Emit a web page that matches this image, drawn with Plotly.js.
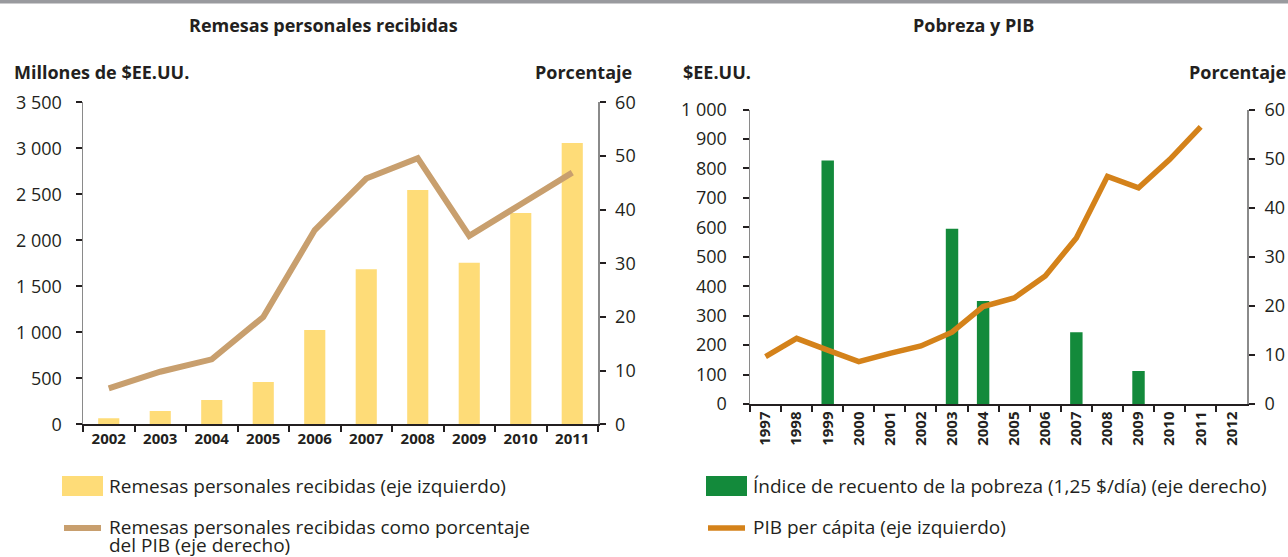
<!DOCTYPE html>
<html>
<head>
<meta charset="utf-8">
<script src="https://cdn.plot.ly/plotly-3.0.1.min.js"></script>
<style>
html,body{margin:0;padding:0;background:#fff;}
#chart{width:1288px;height:557px;}
</style>
</head>
<body>
<div id="chart"></div>
<script>
// ---- Data ----
const remitYears = ['2002','2003','2004','2005','2006','2007','2008','2009','2010','2011'];
const remitMillions = [65, 145, 264, 460, 1025, 1685, 2547, 1757, 2297, 3058];
const remitPctGDP = [6.7, 9.8, 12.1, 20.0, 36.2, 45.8, 49.6, 35.1, 41.0, 46.9];

const povAxisYears = ['1997','1998','1999','2000','2001','2002','2003','2004','2005','2006','2007','2008','2009','2010','2011','2012'];
const povertyYears = ['1999','2003','2004','2007','2009'];
const povertyHeadcount = [49.6, 35.7, 21.0, 14.6, 6.7];
const gdpYears = ['1997','1998','1999','2000','2001','2002','2003','2004','2005','2006','2007','2008','2009','2010','2011'];
const gdpPerCapita = [161, 223, 183, 144, 172, 197, 244, 331, 360, 435, 564, 773, 734, 830, 941];

const legendLabels = {
  remitBars: 'Remesas personales recibidas (eje izquierdo)',
  remitLine1: 'Remesas personales recibidas como porcentaje',
  remitLine2: 'del PIB (eje derecho)',
  povBars: 'Índice de recuento de la pobreza (1,25 $/día) (eje derecho)',
  gdpLine: 'PIB per cápita (eje izquierdo)'
};

// ---- Style ----
const W = 1288, H = 557;
const px = x => x / W;
const py = y => (H - y) / H;
const TXT = '#231F20';
const FONT = 'Open Sans, Noto Sans, sans-serif';
const C_YELLOW = '#FEDC78';
const C_TAN = '#C89F6E';
const C_GREEN = '#138A3B';
const C_ORANGE = '#D4821A';

const traces = [
  {type:'bar', x: remitYears, y: remitMillions, xaxis:'x', yaxis:'y',
   marker:{color:C_YELLOW}, width:0.41, name: legendLabels.remitBars},
  {type:'scatter', mode:'lines', x: remitYears, y: remitPctGDP, xaxis:'x', yaxis:'y2',
   line:{color:C_TAN, width:6}, name: legendLabels.remitLine1 + ' ' + legendLabels.remitLine2},
  {type:'bar', x: povertyYears, y: povertyHeadcount, xaxis:'x2', yaxis:'y3',
   marker:{color:C_GREEN}, width:0.4, name: legendLabels.povBars},
  {type:'scatter', mode:'lines', x: gdpYears, y: gdpPerCapita, xaxis:'x2', yaxis:'y4',
   line:{color:C_ORANGE, width:5.5}, name: legendLabels.gdpLine}
];

const tickFont = {family: FONT, size: 18, color: TXT};
const baseY = {
  showgrid:false, zeroline:false, showline:true, linecolor:'#8A8A8A', linewidth:1.5,
  ticks:'outside', ticklen:6, tickwidth:2, tickcolor:TXT, tickfont:tickFont,
  automargin:false, fixedrange:true
};
const baseX = {
  type:'category', showgrid:false, zeroline:false, showline:true, linecolor:TXT, linewidth:1.5,
  ticks:'outside', ticklen:6, tickwidth:2, tickcolor:TXT, tickson:'boundaries',
  automargin:false, fixedrange:true
};

const T = (text, x, y, xanchor, size, yanchor) => ({
  text, x:px(x), y:py(y), xref:'paper', yref:'paper', xanchor, yanchor: yanchor || 'middle',
  showarrow:false, align:'left', font:{family:FONT, size, color:TXT}
});

const layout = {
  width: W, height: H,
  margin:{l:0,r:0,t:0,b:0},
  paper_bgcolor:'#fff', plot_bgcolor:'#fff',
  showlegend:false,
  separators:', ',
  font:{family:FONT, color:TXT},
  xaxis: Object.assign({}, baseX, {
    domain:[px(83), px(598)], anchor:'y',
    categoryorder:'array', categoryarray: remitYears,
    range:[-0.5, remitYears.length - 0.5],
    tickfont:{family:FONT, size:15, color:TXT, weight:'bold'}
  }),
  yaxis: Object.assign({}, baseY, {
    domain:[py(424.3), py(102.3)], anchor:'x', side:'left',
    range:[0,3500], dtick:500, tickformat:',d', ticklabelstandoff:10
  }),
  yaxis2: Object.assign({}, baseY, {
    overlaying:'y', anchor:'x', side:'right',
    range:[0,60], dtick:10, ticklabelstandoff:6
  }),
  xaxis2: Object.assign({}, baseX, {
    domain:[px(750), px(1247.3)], anchor:'y3',
    categoryorder:'array', categoryarray: povAxisYears,
    range:[-0.5, povAxisYears.length - 0.5],
    tickangle:-90,
    tickfont:{family:FONT, size:15, color:TXT, weight:'bold'}
  }),
  yaxis3: Object.assign({}, baseY, {
    domain:[py(404), py(109.5)], anchor:'x2', side:'right',
    range:[0,60], dtick:10, ticklabelstandoff:6
  }),
  yaxis4: Object.assign({}, baseY, {
    overlaying:'y3', anchor:'x2', side:'left',
    range:[0,1000], dtick:100, tickformat:',d', ticklabelstandoff:12
  }),
  shapes: [
    {type:'rect', xref:'paper', yref:'paper', x0:0, x1:1, y0:py(3.5), y1:1, fillcolor:'#999A9E', line:{width:0}},
    {type:'rect', xref:'paper', yref:'paper', x0:px(62), x1:px(103), y0:py(496), y1:py(476), fillcolor:C_YELLOW, line:{width:0}},
    {type:'line', xref:'paper', yref:'paper', x0:px(64), x1:px(101), y0:py(528), y1:py(528), line:{color:C_TAN, width:6}},
    {type:'rect', xref:'paper', yref:'paper', x0:px(706), x1:px(747), y0:py(496), y1:py(476), fillcolor:C_GREEN, line:{width:0}},
    {type:'line', xref:'paper', yref:'paper', x0:px(708), x1:px(745), y0:py(528), y1:py(528), line:{color:C_ORANGE, width:5.5}}
  ],
  annotations: [
    T('<b>Remesas personales recibidas</b>', 323, 25, 'center', 18),
    T('<b>Pobreza y PIB</b>', 973, 25, 'center', 18),
    T('<b>Millones de $EE.UU.</b>', 12, 72, 'left', 18),
    T('<b>Porcentaje</b>', 634, 72, 'right', 18),
    T('<b>$EE.UU.</b>', 681, 72, 'left', 18),
    T('<b>Porcentaje</b>', 1288, 72, 'right', 18),
    T(legendLabels.remitBars, 107, 486, 'left', 19),
    T(legendLabels.remitLine1, 107, 527, 'left', 19),
    T(legendLabels.remitLine2, 107, 545, 'left', 19),
    T(legendLabels.povBars, 751, 486, 'left', 19),
    T(legendLabels.gdpLine, 751, 527, 'left', 19)
  ]
};

Plotly.newPlot('chart', traces, layout, {staticPlot:true, displayModeBar:false});
</script>
</body>
</html>
